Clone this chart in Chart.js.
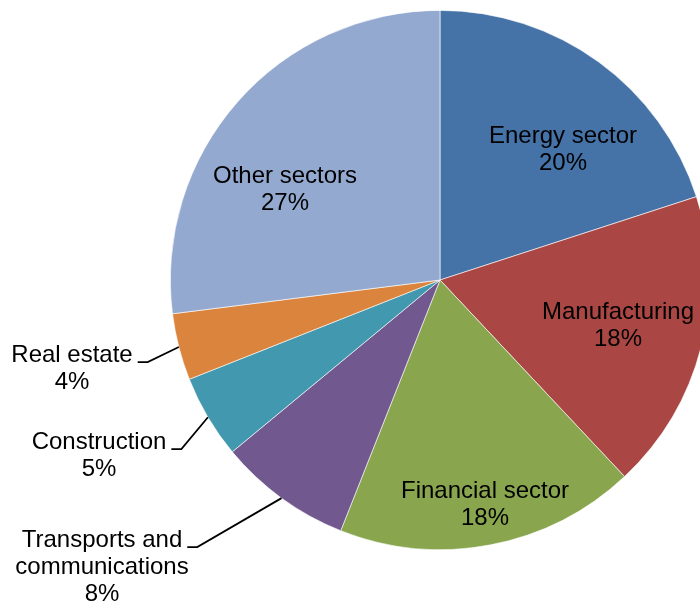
<!DOCTYPE html>
<html>
<head>
<meta charset="utf-8">
<title>Sector shares</title>
<script src="https://cdn.jsdelivr.net/npm/chart.js@4.4.1/dist/chart.umd.min.js"></script>
<style>
  html, body { margin: 0; padding: 0; background: #fff; overflow: hidden; }
  #sectorChart { display: block; }
</style>
</head>
<body>
<canvas id="sectorChart" width="720" height="602"></canvas>
<script>
const sectors = ["Energy sector", "Manufacturing", "Financial sector", "Transports and communications", "Construction", "Real estate", "Other sectors"];
const shares = [20, 18, 18, 8, 5, 4, 27];
const sliceColors = ["#4572A7", "#AA4643", "#89A54E", "#71588F", "#4198AF", "#DB843D", "#93A9CF"];

// how each category name is wrapped on the chart
const labelLines = [["Energy sector"], ["Manufacturing"], ["Financial sector"], ["Transports and", "communications"], ["Construction"], ["Real estate"], ["Other sectors"]];

// text anchor: centre x and first baseline, relative to the pie centre
// outside labels get a leader line to the middle of their slice
const labelPlacement = [
  { dx: 123, dy: -137 },
  { dx: 178, dy: 39 },
  { dx: 45, dy: 218 },
  { dx: -338, dy: 267, outside: true },
  { dx: -341, dy: 169, outside: true },
  { dx: -368, dy: 82, outside: true },
  { dx: -155, dy: -97 },
];

const FONT = '24px "Liberation Sans", Arial, sans-serif';
const LINE_GAP = 27;

const sliceLabels = {
  id: "sliceLabels",
  afterDatasetsDraw(chart) {
    const ctx = chart.ctx;
    const arcs = chart.getDatasetMeta(0).data;
    ctx.save();
    ctx.font = FONT;
    ctx.fillStyle = "#000";
    ctx.textAlign = "center";
    ctx.textBaseline = "alphabetic";
    arcs.forEach((arc, i) => {
      const p = labelPlacement[i];
      const cx = arc.x + p.dx;
      const cy = arc.y + p.dy;
      const lines = labelLines[i].concat([shares[i] + "%"]);
      lines.forEach((t, k) => ctx.fillText(t, cx, cy + k * LINE_GAP));

      if (p.outside) {
        const w = ctx.measureText(lines[0]).width;
        const x0 = cx + w / 2 + 5;
        const x1 = x0 + 10;
        const mid = (arc.startAngle + arc.endAngle) / 2;
        const ex = arc.x + Math.cos(mid) * arc.outerRadius;
        const ey = arc.y + Math.sin(mid) * arc.outerRadius;
        ctx.beginPath();
        ctx.moveTo(x0, cy);
        ctx.lineTo(x1, cy);
        ctx.lineTo(ex, ey);
        ctx.strokeStyle = "#000";
        ctx.lineWidth = 1.75;
        ctx.stroke();
      }
    });
    ctx.restore();
  },
};

const ctx = document.getElementById("sectorChart").getContext("2d");
const sectorChart = new Chart(ctx, {
  type: "pie",
  data: {
    labels: sectors,
    datasets: [
      {
        data: shares,
        backgroundColor: sliceColors,
        borderColor: "rgba(255, 255, 255, 0.8)",
        borderWidth: 0.75,
      },
    ],
  },
  options: {
    responsive: false,
    animation: false,
    layout: {
      padding: { left: 170, right: 10, top: 10, bottom: 52 },
    },
    plugins: {
      legend: { display: false },
      tooltip: { enabled: false },
    },
  },
  plugins: [sliceLabels],
});
</script>
</body>
</html>
